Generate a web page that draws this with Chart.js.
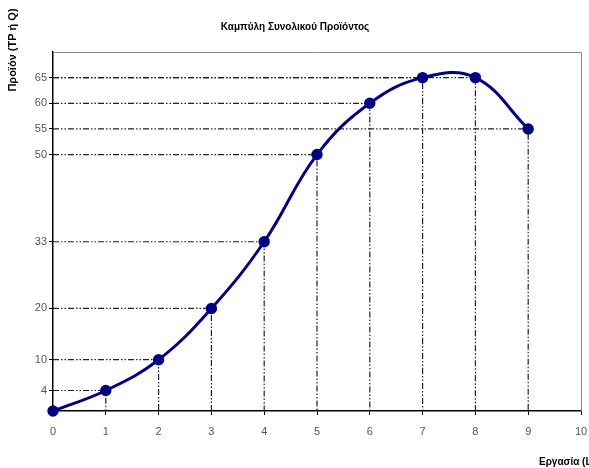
<!DOCTYPE html>
<html><head><meta charset="utf-8">
<script src="https://cdn.jsdelivr.net/npm/chart.js@4"></script>
<style>html,body{margin:0;padding:0;background:#fff;}#wrap{width:589px;height:468px;position:relative;}</style>
</head><body><div id="wrap"><canvas id="c" width="589" height="468"></canvas></div>
<script>
const labour = [0,1,2,3,4,5,6,7,8,9];
const product = [0,4,10,20,33,50,60,65,65,55];
const yTickValues = [4,10,20,33,50,55,60,65];
const chartTitle = "Καμπύλη Συνολικού Προϊόντος";
const yTitle = "Προϊόν (TP ή Q)";
const xTitle = "Εργασία (L)";

const FONT = "'Liberation Sans Narrow','Liberation Sans',Arial,sans-serif";

const datasets = [{
  data: labour.map((x,i)=>({x, y: product[i]})),
  borderColor: '#000080', backgroundColor: '#000080',
  borderWidth: 3, pointRadius: 4.2, pointHoverRadius: 4.2,
  tension: 0.4, order: 0, clip: false
}];
labour.forEach((x,i)=>{
  if (x === 0) return;
  datasets.push({
    data: [{x:0,y:product[i]},{x,y:product[i]},{x,y:0}],
    borderColor: '#222', borderWidth: 1.2, borderDash: [6,2,1.5,2,1.5,2],
    pointRadius: 0, tension: 0, order: 1
  });
});

const decor = {
  id: 'decor',
  beforeDatasetsDraw(chart){
    const {ctx, chartArea: a} = chart;
    ctx.save();
    ctx.strokeStyle = '#8a8a8a'; ctx.lineWidth = 1;
    ctx.beginPath();
    ctx.moveTo(a.left, a.top+0.5); ctx.lineTo(a.right+0.5, a.top+0.5); ctx.lineTo(a.right+0.5, a.bottom);
    ctx.stroke();
    ctx.restore();
  },
  afterDraw(chart){
    const {ctx} = chart;
    ctx.save();
    ctx.fillStyle = '#000';
    ctx.font = "bold 10px 'Liberation Sans',Arial,sans-serif";
    ctx.textAlign = 'center'; ctx.textBaseline = 'middle';
    ctx.fillText(chartTitle, 295, 27);
    ctx.textAlign = 'left'; ctx.textBaseline = 'alphabetic';
    ctx.fillText(xTitle, 539, 465);
    ctx.font = "bold 11px 'Liberation Sans',Arial,sans-serif";
    ctx.translate(16, 50); ctx.rotate(-Math.PI/2);
    ctx.textAlign = 'center';
    ctx.fillText(yTitle, 0, 0);
    ctx.restore();
  }
};

new Chart(document.getElementById('c'), {
  type: 'line',
  data: { datasets },
  options: {
    responsive: false, animation: false,
    layout: { padding: { left: 0, top: 52, right: 8, bottom: 0 } },
    plugins: { legend: {display:false}, tooltip: {enabled:false}, title: {display:false} },
    scales: {
      x: {
        type: 'linear', min: 0, max: 10,
        ticks: { stepSize: 1, color: '#555', font: {family: FONT, size: 11}, padding: 10 },
        grid: { drawOnChartArea: false, drawTicks: true, tickLength: 4, color: '#000' },
        border: { display: true, color: '#000', width: 1.5 },
        afterFit(s){ s.height = 57; s.paddingRight = 0; s.paddingLeft = 0; }
      },
      y: {
        type: 'linear', min: 0, max: 70,
        afterBuildTicks(s){ s.ticks = yTickValues.map(v=>({value:v})); },
        ticks: { color: '#555', font: {family: FONT, size: 11}, padding: 2 },
        grid: { drawOnChartArea: false, drawTicks: true, tickLength: 4, color: '#000' },
        border: { display: true, color: '#000', width: 1.5 },
        afterFit(s){ s.width = 53; s.paddingTop = 0; s.paddingBottom = 0; }
      }
    }
  },
  plugins: [decor]
});
</script></body></html>
